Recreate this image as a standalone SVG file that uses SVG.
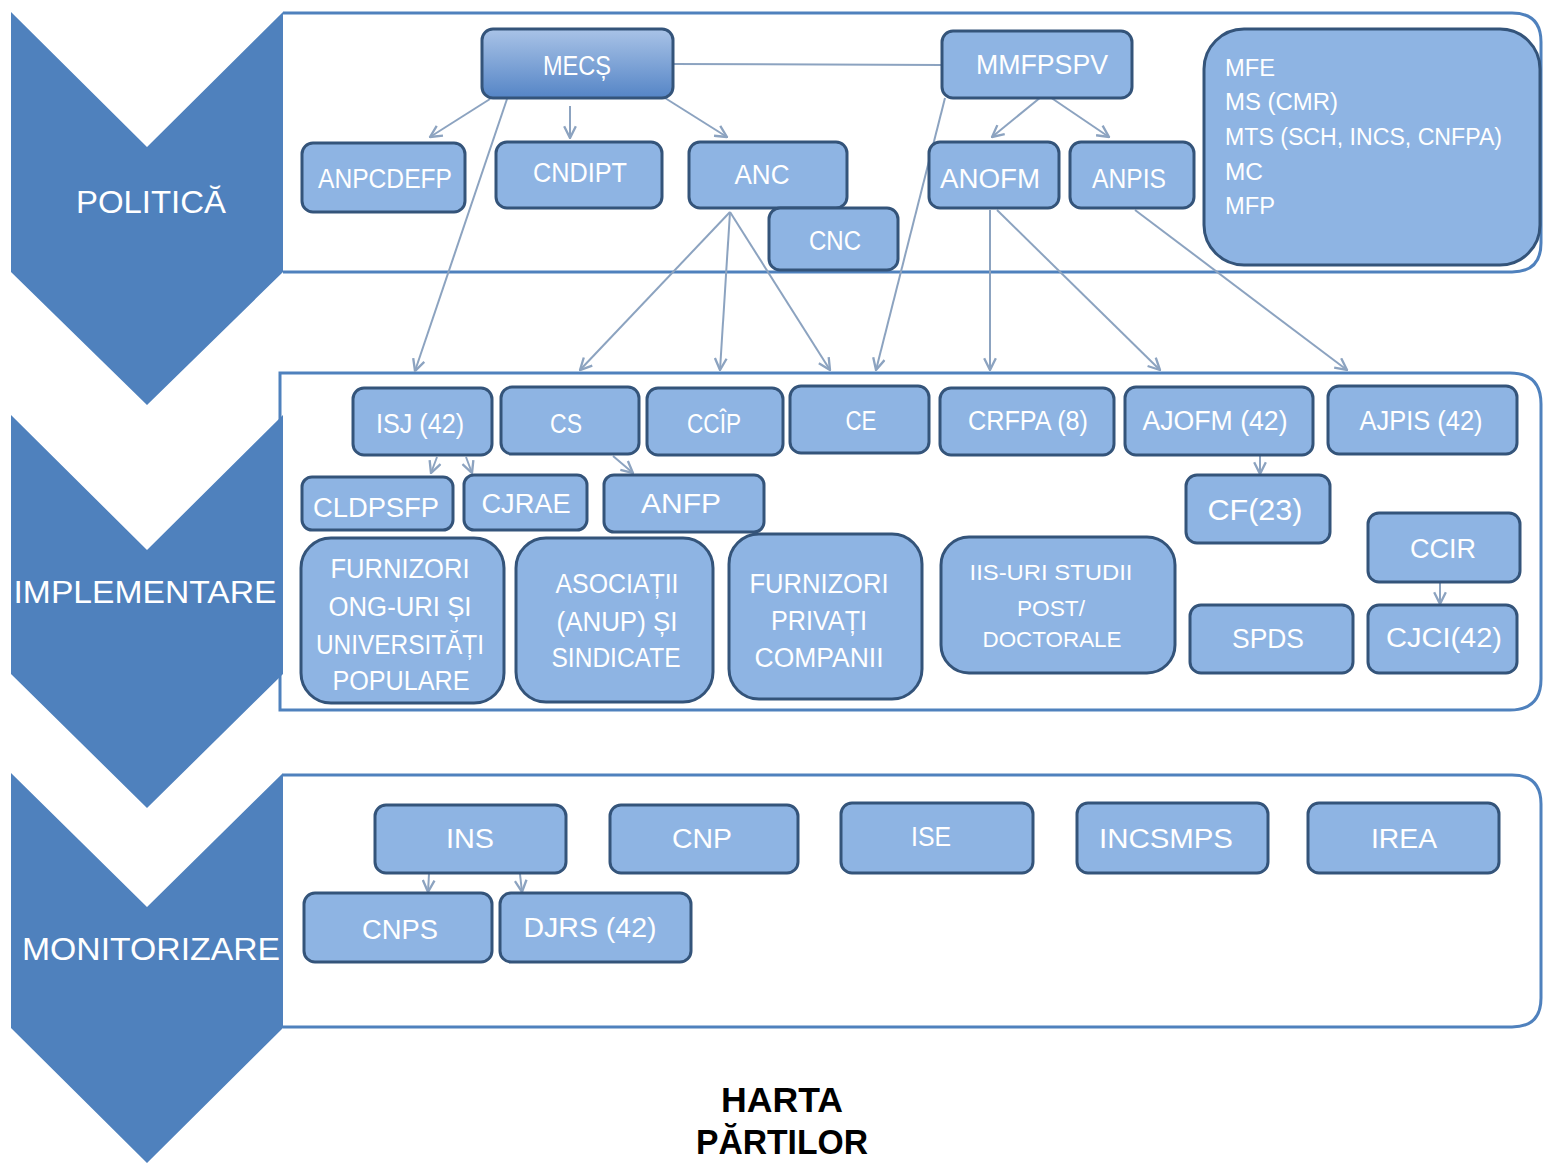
<svg xmlns="http://www.w3.org/2000/svg" width="1543" height="1163" viewBox="0 0 1543 1163">
<style>
.band{fill:#fff;stroke:#4F81BD;stroke-width:3}
.chev{fill:#4F81BD}
.node rect{fill:#8EB4E3;stroke:#34547A;stroke-width:3}
.lbl{font-family:"Liberation Sans",Arial,sans-serif;fill:#fff;font-size:27px;text-anchor:middle}
.lst{font-family:"Liberation Sans",Arial,sans-serif;fill:#fff;font-size:23px}
.big{font-family:"Liberation Sans",Arial,sans-serif;fill:#fff;font-size:31px;text-anchor:middle}
.ttl{font-family:"Liberation Sans",Arial,sans-serif;fill:#000;font-size:35px;font-weight:bold;text-anchor:middle}
.conn line{stroke:#8CA3C0;stroke-width:2;fill:none}
.conn line.arr{marker-end:url(#ah)}
</style>
<defs>
<marker id="ah" markerUnits="userSpaceOnUse" markerWidth="14" markerHeight="14" viewBox="0 0 12 12" refX="11" refY="6" orient="auto">
<path d="M1,1 L11,6 L1,11" fill="none" stroke="#8CA3C0" stroke-width="2"/>
</marker>
<linearGradient id="gm" x1="0" y1="0" x2="0" y2="1">
<stop offset="0" stop-color="#A9C3E7"/>
<stop offset="1" stop-color="#5585C6"/>
</linearGradient>
</defs>
<rect width="1543" height="1163" fill="#fff"/>

<!-- bands -->
<path class="band" d="M283,13 H1512 Q1541,13 1541,42 V243 Q1541,272 1512,272 H283"/>
<path class="band" d="M280,373 H1510 Q1541,373 1541,404 V679 Q1541,710 1510,710 H280 Z"/>
<path class="band" d="M283,775 H1512 Q1541,775 1541,804 V998 Q1541,1027 1512,1027 H283"/>

<!-- chevrons -->
<g id="chev-politica">
<path class="chev" d="M11,12 L147,147 L283,12 L283,272 L147,405 L11,272 Z"/>
<text class="big" x="151" y="213" textLength="150" lengthAdjust="spacingAndGlyphs">POLITICĂ</text>
</g>
<g id="chev-implementare">
<path class="chev" d="M11,415 L147,550 L283,415 L283,674 L147,808 L11,674 Z"/>
<text class="big" x="145" y="603" textLength="263" lengthAdjust="spacingAndGlyphs">IMPLEMENTARE</text>
</g>
<g id="chev-monitorizare">
<path class="chev" d="M11,773 L147,907 L283,773 L283,1028 L147,1163 L11,1028 Z"/>
<text class="big" x="151" y="960" textLength="258" lengthAdjust="spacingAndGlyphs">MONITORIZARE</text>
</g>

<!-- connectors -->
<g id="connectors" class="conn">
<line x1="673" y1="64" x2="942" y2="65"/>
<line class="arr" x1="490" y1="99" x2="430" y2="137"/>
<line class="arr" x1="507" y1="99" x2="415" y2="371"/>
<line class="arr" x1="570" y1="106" x2="570" y2="138"/>
<line class="arr" x1="665" y1="98" x2="727" y2="137"/>
<line class="arr" x1="730" y1="212" x2="580" y2="370"/>
<line class="arr" x1="730" y1="212" x2="720" y2="370"/>
<line class="arr" x1="730" y1="212" x2="830" y2="370"/>
<line class="arr" x1="945" y1="98" x2="876" y2="370"/>
<line class="arr" x1="1041" y1="97" x2="992" y2="137"/>
<line class="arr" x1="1050" y1="97" x2="1109" y2="137"/>
<line class="arr" x1="990" y1="210" x2="990" y2="370"/>
<line class="arr" x1="997" y1="210" x2="1160" y2="370"/>
<line class="arr" x1="1135" y1="210" x2="1347" y2="370"/>
<line class="arr" x1="437" y1="457" x2="431" y2="473"/>
<line class="arr" x1="466" y1="457" x2="472" y2="473"/>
<line class="arr" x1="613" y1="456" x2="633" y2="473"/>
<line class="arr" x1="1260" y1="456" x2="1260" y2="474"/>
<line class="arr" x1="1440" y1="583" x2="1440" y2="604"/>
<line class="arr" x1="429" y1="874" x2="428" y2="892"/>
<line class="arr" x1="520" y1="874" x2="522" y2="892"/>
</g>

<!-- POLITICA nodes -->
<g id="n-mecs" class="node"><rect x="482" y="29" width="191" height="69" rx="11" style="fill:url(#gm)"/><text class="lbl" x="577" y="75" textLength="68" lengthAdjust="spacingAndGlyphs">MECȘ</text></g>
<g id="n-mmfpspv" class="node"><rect x="942" y="31" width="190" height="67" rx="11"/><text class="lbl" x="1042" y="74" textLength="132" lengthAdjust="spacingAndGlyphs">MMFPSPV</text></g>
<g id="n-ministere" class="node"><rect x="1204" y="29" width="336" height="236" rx="40"/>
<text class="lst" x="1225" y="76" textLength="50" lengthAdjust="spacingAndGlyphs">MFE</text>
<text class="lst" x="1225" y="110" textLength="113" lengthAdjust="spacingAndGlyphs">MS (CMR)</text>
<text class="lst" x="1225" y="145" textLength="277" lengthAdjust="spacingAndGlyphs">MTS (SCH, INCS, CNFPA)</text>
<text class="lst" x="1225" y="180" textLength="38" lengthAdjust="spacingAndGlyphs">MC</text>
<text class="lst" x="1225" y="214" textLength="50" lengthAdjust="spacingAndGlyphs">MFP</text>
</g>
<g id="n-anpcdefp" class="node"><rect x="302" y="143" width="163" height="69" rx="11"/><text class="lbl" x="385" y="188" textLength="134" lengthAdjust="spacingAndGlyphs">ANPCDEFP</text></g>
<g id="n-cndipt" class="node"><rect x="496" y="142" width="166" height="66" rx="11"/><text class="lbl" x="580" y="182" textLength="94" lengthAdjust="spacingAndGlyphs">CNDIPT</text></g>
<g id="n-anc" class="node"><rect x="689" y="142" width="158" height="66" rx="11"/><text class="lbl" x="762" y="184" textLength="55" lengthAdjust="spacingAndGlyphs">ANC</text></g>
<g id="n-cnc" class="node"><rect x="769" y="208" width="129" height="62" rx="11"/><text class="lbl" x="835" y="250" textLength="52" lengthAdjust="spacingAndGlyphs">CNC</text></g>
<g id="n-anofm" class="node"><rect x="929" y="142" width="130" height="66" rx="11"/><text class="lbl" x="990" y="188" textLength="100" lengthAdjust="spacingAndGlyphs">ANOFM</text></g>
<g id="n-anpis" class="node"><rect x="1070" y="142" width="124" height="66" rx="11"/><text class="lbl" x="1129" y="188" textLength="74" lengthAdjust="spacingAndGlyphs">ANPIS</text></g>

<!-- IMPLEMENTARE nodes -->
<g id="n-isj" class="node"><rect x="353" y="388" width="139" height="67" rx="11"/><text class="lbl" x="420" y="433" textLength="88" lengthAdjust="spacingAndGlyphs">ISJ (42)</text></g>
<g id="n-cs" class="node"><rect x="501" y="387" width="138" height="67" rx="11"/><text class="lbl" x="566" y="433" textLength="32" lengthAdjust="spacingAndGlyphs">CS</text></g>
<g id="n-ccip" class="node"><rect x="647" y="388" width="136" height="67" rx="11"/><text class="lbl" x="714" y="433" textLength="54" lengthAdjust="spacingAndGlyphs">CCÎP</text></g>
<g id="n-ce" class="node"><rect x="790" y="386" width="139" height="67" rx="11"/><text class="lbl" x="861" y="430" textLength="31" lengthAdjust="spacingAndGlyphs">CE</text></g>
<g id="n-crfpa" class="node"><rect x="940" y="388" width="174" height="67" rx="11"/><text class="lbl" x="1028" y="430" textLength="120" lengthAdjust="spacingAndGlyphs">CRFPA (8)</text></g>
<g id="n-ajofm" class="node"><rect x="1125" y="387" width="188" height="68" rx="11"/><text class="lbl" x="1215" y="430" textLength="145" lengthAdjust="spacingAndGlyphs">AJOFM (42)</text></g>
<g id="n-ajpis" class="node"><rect x="1328" y="386" width="189" height="68" rx="11"/><text class="lbl" x="1421" y="430" textLength="123" lengthAdjust="spacingAndGlyphs">AJPIS (42)</text></g>
<g id="n-cldpsfp" class="node"><rect x="302" y="477" width="151" height="53" rx="10"/><text class="lbl" x="376" y="517" textLength="126" lengthAdjust="spacingAndGlyphs">CLDPSFP</text></g>
<g id="n-cjrae" class="node"><rect x="464" y="475" width="123" height="55" rx="10"/><text class="lbl" x="526" y="513" textLength="89" lengthAdjust="spacingAndGlyphs">CJRAE</text></g>
<g id="n-anfp" class="node"><rect x="604" y="475" width="160" height="57" rx="10"/><text class="lbl" x="681" y="513" textLength="80" lengthAdjust="spacingAndGlyphs">ANFP</text></g>
<g id="n-cf" class="node"><rect x="1186" y="475" width="144" height="68" rx="11"/><text class="lbl" x="1255" y="520" style="font-size:30px" textLength="95" lengthAdjust="spacingAndGlyphs">CF(23)</text></g>
<g id="n-furnizori-ong" class="node"><rect x="301" y="538" width="203" height="165" rx="30"/>
<text class="lbl" x="400" y="578" textLength="139" lengthAdjust="spacingAndGlyphs">FURNIZORI</text>
<text class="lbl" x="400" y="616" textLength="143" lengthAdjust="spacingAndGlyphs">ONG-URI ȘI</text>
<text class="lbl" x="400" y="654" textLength="168" lengthAdjust="spacingAndGlyphs">UNIVERSITĂȚI</text>
<text class="lbl" x="401" y="690" textLength="137" lengthAdjust="spacingAndGlyphs">POPULARE</text>
</g>
<g id="n-asociatii" class="node"><rect x="516" y="538" width="197" height="164" rx="30"/>
<text class="lbl" x="617" y="593" textLength="123" lengthAdjust="spacingAndGlyphs">ASOCIAȚII</text>
<text class="lbl" x="617" y="631" textLength="121" lengthAdjust="spacingAndGlyphs">(ANUP) ȘI</text>
<text class="lbl" x="616" y="667" textLength="129" lengthAdjust="spacingAndGlyphs">SINDICATE</text>
</g>
<g id="n-furnizori-privati" class="node"><rect x="729" y="534" width="193" height="165" rx="30"/>
<text class="lbl" x="819" y="593" textLength="139" lengthAdjust="spacingAndGlyphs">FURNIZORI</text>
<text class="lbl" x="819" y="630" textLength="96" lengthAdjust="spacingAndGlyphs">PRIVAȚI</text>
<text class="lbl" x="819" y="667" textLength="129" lengthAdjust="spacingAndGlyphs">COMPANII</text>
</g>
<g id="n-iis" class="node"><rect x="941" y="537" width="234" height="136" rx="28"/>
<text class="lbl" x="1051" y="580" style="font-size:22px" textLength="163" lengthAdjust="spacingAndGlyphs">IIS-URI STUDII</text>
<text class="lbl" x="1051" y="616" style="font-size:22px" textLength="68" lengthAdjust="spacingAndGlyphs">POST/</text>
<text class="lbl" x="1052" y="647" style="font-size:22px" textLength="139" lengthAdjust="spacingAndGlyphs">DOCTORALE</text>
</g>
<g id="n-spds" class="node"><rect x="1190" y="605" width="163" height="68" rx="11"/><text class="lbl" x="1268" y="648" textLength="72" lengthAdjust="spacingAndGlyphs">SPDS</text></g>
<g id="n-ccir" class="node"><rect x="1368" y="513" width="152" height="69" rx="11"/><text class="lbl" x="1443" y="558" textLength="66" lengthAdjust="spacingAndGlyphs">CCIR</text></g>
<g id="n-cjci" class="node"><rect x="1368" y="605" width="149" height="68" rx="11"/><text class="lbl" x="1444" y="647" textLength="116" lengthAdjust="spacingAndGlyphs">CJCI(42)</text></g>

<!-- MONITORIZARE nodes -->
<g id="n-ins" class="node"><rect x="375" y="805" width="191" height="68" rx="11"/><text class="lbl" x="470" y="848" textLength="48" lengthAdjust="spacingAndGlyphs">INS</text></g>
<g id="n-cnp" class="node"><rect x="610" y="805" width="188" height="68" rx="11"/><text class="lbl" x="702" y="848" textLength="60" lengthAdjust="spacingAndGlyphs">CNP</text></g>
<g id="n-ise" class="node"><rect x="841" y="803" width="192" height="70" rx="11"/><text class="lbl" x="931" y="846" textLength="40" lengthAdjust="spacingAndGlyphs">ISE</text></g>
<g id="n-incsmps" class="node"><rect x="1077" y="803" width="191" height="70" rx="11"/><text class="lbl" x="1166" y="848" textLength="134" lengthAdjust="spacingAndGlyphs">INCSMPS</text></g>
<g id="n-irea" class="node"><rect x="1308" y="803" width="191" height="70" rx="11"/><text class="lbl" x="1404" y="848" textLength="66" lengthAdjust="spacingAndGlyphs">IREA</text></g>
<g id="n-cnps" class="node"><rect x="304" y="893" width="188" height="69" rx="11"/><text class="lbl" x="400" y="939" textLength="76" lengthAdjust="spacingAndGlyphs">CNPS</text></g>
<g id="n-djrs" class="node"><rect x="500" y="893" width="191" height="69" rx="11"/><text class="lbl" x="590" y="937" textLength="133" lengthAdjust="spacingAndGlyphs">DJRS (42)</text></g>

<!-- title -->
<text class="ttl" x="782" y="1112" textLength="122" lengthAdjust="spacingAndGlyphs">HARTA</text>
<text class="ttl" x="782" y="1154" textLength="172" lengthAdjust="spacingAndGlyphs">PĂRTILOR</text>
</svg>
